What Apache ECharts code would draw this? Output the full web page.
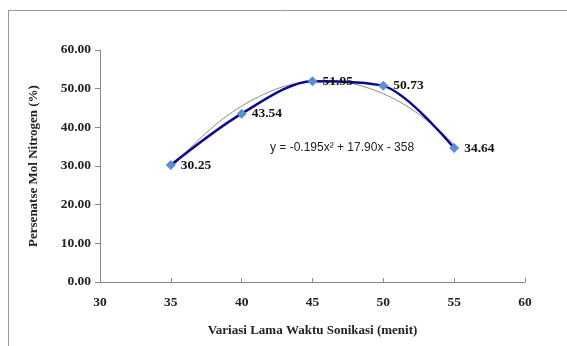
<!DOCTYPE html>
<html><head><meta charset="utf-8">
<script src="https://cdn.jsdelivr.net/npm/echarts@6/dist/echarts.min.js"></script>
<style>html,body{margin:0;padding:0;background:#fff}#c{width:567px;height:346px}</style>
</head><body><div id="c"></div>
<script>
const xValues = [35, 40, 45, 50, 55];
const yValues = [30.25, 43.54, 51.95, 50.73, 34.64];
const trendX = [35, 36.25, 37.5, 38.75, 40, 41.25, 42.5, 43.75, 45, 46.25, 47.5, 48.75, 50, 51.25, 52.5, 53.75, 55];
const trendY = [29.3, 34.2, 38.6, 42.4, 45.5, 48.0, 50.0, 51.3, 52.0, 52.1, 51.6, 50.4, 48.7, 46.4, 43.4, 39.8, 35.6];
const equationText = 'y = -0.195x\u00B2 + 17.90x - 358';
const xTitle = 'Variasi Lama Waktu Sonikasi (menit)';
const yTitle = 'Persenatse Mol Nitrogen (%)';

const serif = '"Liberation Serif", "Times New Roman", serif';
const chart = echarts.init(document.getElementById('c'), null, {renderer: 'canvas'});
chart.setOption({
  animation: false,
  backgroundColor: '#fff',
  grid: {left: 100, right: 42, top: 50, bottom: 64},
  xAxis: {
    type: 'value', min: 30, max: 60, interval: 5,
    name: xTitle, nameLocation: 'middle', nameGap: 42,
    nameTextStyle: {fontFamily: serif, fontWeight: 'bold', fontSize: 13, color: '#222'},
    axisLine: {show: true, lineStyle: {color: '#888', width: 1}},
    axisTick: {show: true, inside: true, length: 4, lineStyle: {color: '#888'}},
    axisLabel: {fontFamily: serif, fontWeight: 'bold', fontSize: 13.5, color: '#222', margin: 14},
    splitLine: {show: false}
  },
  yAxis: {
    type: 'value', min: 0, max: 60, interval: 10,
    name: yTitle, nameLocation: 'middle', nameGap: 60, nameRotate: 90,
    nameTextStyle: {fontFamily: serif, fontWeight: 'bold', fontSize: 13, color: '#222'},
    axisLine: {show: true, lineStyle: {color: '#888', width: 1}},
    axisTick: {show: true, length: 5, lineStyle: {color: '#888'}},
    axisLabel: {fontFamily: serif, fontWeight: 'bold', fontSize: 13.5, color: '#222', margin: 9,
      formatter: v => v.toFixed(2)},
    splitLine: {show: false}
  },
  series: [
    {
      type: 'line', data: trendX.map((x, i) => [x, trendY[i]]),
      smooth: 0.3, showSymbol: false, symbol: 'none',
      lineStyle: {color: '#8a8a8a', width: 1}, z: 1, silent: true
    },
    {
      type: 'line', data: xValues.map((x, i) => [x, yValues[i]]),
      smooth: 0.3,
      symbol: 'diamond', symbolSize: 10,
      itemStyle: {color: '#5a8fd0'},
      lineStyle: {color: '#0a0a8a', width: 2.5},
      z: 2,
      label: {
        show: true, position: 'right', distance: 5,
        fontFamily: serif, fontWeight: 'bold', fontSize: 13.5, color: '#111',
        formatter: p => p.value[1].toFixed(2)
      }
    }
  ],
  graphic: [
    {type: 'line', shape: {x1: 8, y1: 10.5, x2: 567, y2: 10.5}, style: {stroke: '#999', lineWidth: 1}},
    {type: 'line', shape: {x1: 8.5, y1: 10, x2: 8.5, y2: 346}, style: {stroke: '#999', lineWidth: 1}},
    {type: 'text', left: 270, top: 142, style: {text: equationText, font: '12px "Liberation Sans", Arial, sans-serif', fill: '#222'}}
  ]
});
</script></body></html>
